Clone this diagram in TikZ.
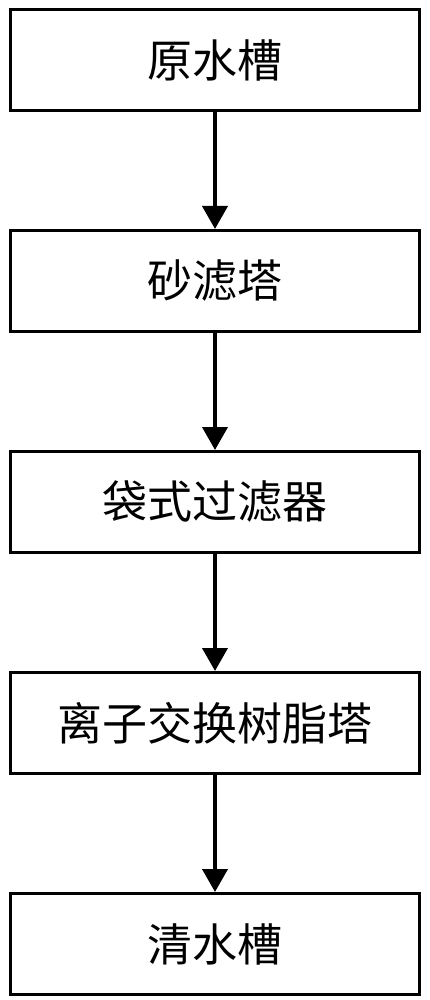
\documentclass[tikz,border=0pt]{standalone}
\usepackage{fontspec}
\newfontfamily\cjk{Noto Sans CJK SC}
\usetikzlibrary{positioning,arrows.meta}

\tikzset{
    stepbox/.style={draw, line width=3pt, minimum width=409pt, minimum height=101pt,
        inner sep=0pt, font=\cjk\fontsize{45pt}{52pt}\selectfont},
    flow/.style={line width=4pt, -{Triangle[width=25pt,length=23pt]}}
}

\begin{document}
\begin{tikzpicture}[node distance=117pt]
    \useasboundingbox (0,0) rectangle (430pt,-1000pt);
    \node[stepbox] (raw) at (215pt,-60pt) {原水槽};
    \node[stepbox, below=of raw] (sand) {砂滤塔};
    \node[stepbox, below=of sand] (bag) {袋式过滤器};
    \node[stepbox, below=of bag] (resin) {离子交换树脂塔};
    \node[stepbox, below=of resin] (clean) {清水槽};
    \draw[flow] (raw) -- (sand);
    \draw[flow] (sand) -- (bag);
    \draw[flow] (bag) -- (resin);
    \draw[flow] (resin) -- (clean);
\end{tikzpicture}
\end{document}
